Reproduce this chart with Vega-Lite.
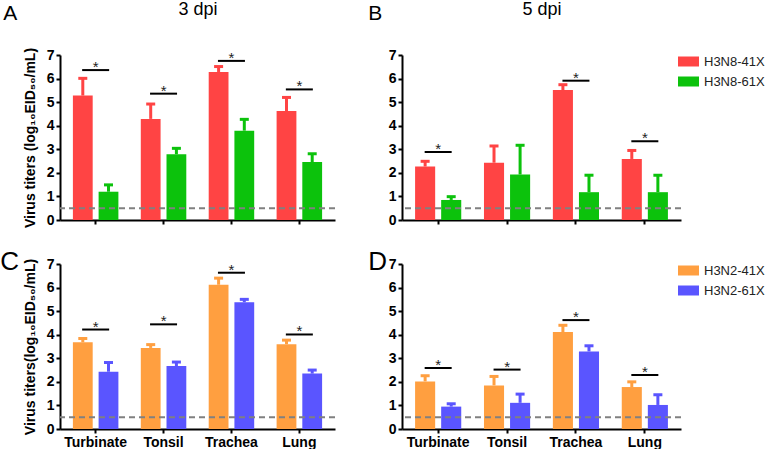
{
  "$schema": "https://vega.github.io/schema/vega-lite/v6.json",
  "padding": {"left": 0, "top": 0, "right": 0, "bottom": 0},
  "background": "white",
  "config": {
    "font": "Liberation Sans",
    "view": {"stroke": null},
    "axis": {"domainColor": "black", "domainWidth": 2, "tickColor": "black", "tickWidth": 2, "tickSize": 4, "labelFont": "Liberation Sans", "labelFontSize": 14, "labelFontWeight": "bold", "labelColor": "black", "labelOverlap": false, "grid": false, "titleFont": "Liberation Sans", "titleFontSize": 14, "titleFontWeight": "bold", "titleColor": "black"},
    "title": {"font": "Liberation Sans", "fontWeight": "normal", "color": "black"},
    "legend": {"title": null, "orient": "right", "labelFont": "Liberation Sans", "labelFontSize": 13, "labelColor": "#222", "symbolType": "M-2.1,-1H2.1V1H-2.1Z", "symbolSize": 100, "symbolStrokeWidth": 0, "symbolOpacity": 1, "labelOffset": 9, "offset": 1, "rowPadding": 6, "padding": 0}
  },
  "datasets": {
    "bars": [
      {"panel": "A", "tissue": "Turbinate", "strain": "H3N8-41X", "mean": 5.28, "upper": 6.01},
      {"panel": "A", "tissue": "Turbinate", "strain": "H3N8-61X", "mean": 1.2, "upper": 1.49},
      {"panel": "A", "tissue": "Tonsil", "strain": "H3N8-41X", "mean": 4.29, "upper": 4.92},
      {"panel": "A", "tissue": "Tonsil", "strain": "H3N8-61X", "mean": 2.79, "upper": 3.04},
      {"panel": "A", "tissue": "Trachea", "strain": "H3N8-41X", "mean": 6.28, "upper": 6.51},
      {"panel": "A", "tissue": "Trachea", "strain": "H3N8-61X", "mean": 3.79, "upper": 4.27},
      {"panel": "A", "tissue": "Lung", "strain": "H3N8-41X", "mean": 4.62, "upper": 5.2},
      {"panel": "A", "tissue": "Lung", "strain": "H3N8-61X", "mean": 2.46, "upper": 2.81},
      {"panel": "B", "tissue": "Turbinate", "strain": "H3N8-41X", "mean": 2.27, "upper": 2.49},
      {"panel": "B", "tissue": "Turbinate", "strain": "H3N8-61X", "mean": 0.85, "upper": 0.99},
      {"panel": "B", "tissue": "Tonsil", "strain": "H3N8-41X", "mean": 2.43, "upper": 3.14},
      {"panel": "B", "tissue": "Tonsil", "strain": "H3N8-61X", "mean": 1.93, "upper": 3.17},
      {"panel": "B", "tissue": "Trachea", "strain": "H3N8-41X", "mean": 5.51, "upper": 5.74},
      {"panel": "B", "tissue": "Trachea", "strain": "H3N8-61X", "mean": 1.18, "upper": 1.9},
      {"panel": "B", "tissue": "Lung", "strain": "H3N8-41X", "mean": 2.59, "upper": 2.95},
      {"panel": "B", "tissue": "Lung", "strain": "H3N8-61X", "mean": 1.18, "upper": 1.9},
      {"panel": "C", "tissue": "Turbinate", "strain": "H3N2-41X", "mean": 3.68, "upper": 3.84},
      {"panel": "C", "tissue": "Turbinate", "strain": "H3N2-61X", "mean": 2.43, "upper": 2.82},
      {"panel": "C", "tissue": "Tonsil", "strain": "H3N2-41X", "mean": 3.44, "upper": 3.58},
      {"panel": "C", "tissue": "Tonsil", "strain": "H3N2-61X", "mean": 2.67, "upper": 2.84},
      {"panel": "C", "tissue": "Trachea", "strain": "H3N2-41X", "mean": 6.12, "upper": 6.4},
      {"panel": "C", "tissue": "Trachea", "strain": "H3N2-61X", "mean": 5.38, "upper": 5.5},
      {"panel": "C", "tissue": "Lung", "strain": "H3N2-41X", "mean": 3.6, "upper": 3.77},
      {"panel": "C", "tissue": "Lung", "strain": "H3N2-61X", "mean": 2.35, "upper": 2.5},
      {"panel": "D", "tissue": "Turbinate", "strain": "H3N2-41X", "mean": 2.02, "upper": 2.26},
      {"panel": "D", "tissue": "Turbinate", "strain": "H3N2-61X", "mean": 0.95, "upper": 1.07},
      {"panel": "D", "tissue": "Tonsil", "strain": "H3N2-41X", "mean": 1.85, "upper": 2.23},
      {"panel": "D", "tissue": "Tonsil", "strain": "H3N2-61X", "mean": 1.11, "upper": 1.48},
      {"panel": "D", "tissue": "Trachea", "strain": "H3N2-41X", "mean": 4.11, "upper": 4.4},
      {"panel": "D", "tissue": "Trachea", "strain": "H3N2-61X", "mean": 3.29, "upper": 3.53},
      {"panel": "D", "tissue": "Lung", "strain": "H3N2-41X", "mean": 1.78, "upper": 2.0},
      {"panel": "D", "tissue": "Lung", "strain": "H3N2-61X", "mean": 1.02, "upper": 1.45}
    ],
    "sig": [
      {"panel": "A", "tissue": "Turbinate", "y": 6.36},
      {"panel": "A", "tissue": "Tonsil", "y": 5.36},
      {"panel": "A", "tissue": "Trachea", "y": 6.75},
      {"panel": "A", "tissue": "Lung", "y": 5.54},
      {"panel": "B", "tissue": "Turbinate", "y": 2.88},
      {"panel": "B", "tissue": "Trachea", "y": 5.91},
      {"panel": "B", "tissue": "Lung", "y": 3.34},
      {"panel": "C", "tissue": "Turbinate", "y": 4.22},
      {"panel": "C", "tissue": "Tonsil", "y": 4.44},
      {"panel": "C", "tissue": "Trachea", "y": 6.63},
      {"panel": "C", "tissue": "Lung", "y": 4.01},
      {"panel": "D", "tissue": "Turbinate", "y": 2.59},
      {"panel": "D", "tissue": "Tonsil", "y": 2.52},
      {"panel": "D", "tissue": "Trachea", "y": 4.62},
      {"panel": "D", "tissue": "Lung", "y": 2.29}
    ],
    "lod": [{"lod": 0.5}]
  },
  "columns": 2,
  "align": "each",
  "spacing": {"row": 21, "column": 32},
  "resolve": {"scale": {"color": "independent", "xOffset": "independent"}},
  "concat": [
    {
      "width": 275, "height": 165,
      "title": {"text": "A", "anchor": "start", "frame": "bounds", "fontSize": 21, "dy": 28, "dx": -20},
      "resolve": {"axis": {"x": "independent", "y": "independent"}},
      "layer": [
        {"data": {"name": "bars"}, "transform": [{"filter": "datum.panel === 'A'"}], "mark": {"type": "bar"},
         "encoding": {
           "x": {"field": "tissue", "type": "nominal", "sort": ["Turbinate", "Tonsil", "Trachea", "Lung"], "scale": {"type": "band", "paddingInner": 0.33, "paddingOuter": 0.19}, "axis": {"orient": "bottom", "title": null, "labels": false}},
           "xOffset": {"field": "strain", "type": "nominal", "scale": {"type": "band", "paddingInner": 0.23, "paddingOuter": 0}},
           "y": {"field": "mean", "type": "quantitative", "scale": {"domain": [0, 7], "nice": false}, "axis": {"values": [0, 1, 2, 3, 4, 5, 6, 7], "title": "Virus titers (log₁₀EID₅₀/mL)", "titlePadding": 9, "labelPadding": 2}},
           "color": {"field": "strain", "type": "nominal", "scale": {"domain": ["H3N8-41X", "H3N8-61X"], "range": ["#FF4444", "#0CC20C"]}, "legend": null}
         }},
        {"data": {"name": "bars"}, "transform": [{"filter": "datum.panel === 'A'"}], "mark": {"type": "rule", "strokeWidth": 3},
         "encoding": {
           "x": {"field": "tissue", "type": "nominal", "sort": ["Turbinate", "Tonsil", "Trachea", "Lung"], "axis": null},
           "xOffset": {"field": "strain", "type": "nominal"},
           "y": {"field": "mean", "type": "quantitative", "axis": null}, "y2": {"field": "upper"},
           "color": {"field": "strain", "type": "nominal", "legend": null}
         }},
        {"data": {"name": "bars"}, "transform": [{"filter": "datum.panel === 'A'"}], "mark": {"type": "tick", "size": 9, "thickness": 3, "opacity": 1},
         "encoding": {
           "x": {"field": "tissue", "type": "nominal", "sort": ["Turbinate", "Tonsil", "Trachea", "Lung"], "axis": null},
           "xOffset": {"field": "strain", "type": "nominal"},
           "y": {"field": "upper", "type": "quantitative", "axis": null},
           "color": {"field": "strain", "type": "nominal", "legend": null}
         }},
        {"data": {"name": "lod"}, "mark": {"type": "rule", "strokeDash": [6, 4], "color": "#808080", "strokeWidth": 2}, "encoding": {"y": {"field": "lod", "type": "quantitative", "axis": null}}},
        {"data": {"name": "sig"}, "transform": [{"filter": "datum.panel === 'A'"}], "mark": {"type": "tick", "size": 27, "thickness": 2, "color": "black", "opacity": 1},
         "encoding": {
           "x": {"field": "tissue", "type": "nominal", "sort": ["Turbinate", "Tonsil", "Trachea", "Lung"], "axis": {"orient": "top", "title": "3 dpi", "labels": false, "ticks": false, "domain": false, "titleFontSize": 18, "titleFontWeight": "normal", "titlePadding": 37}},
           "y": {"field": "y", "type": "quantitative", "axis": null}
         }},
        {"data": {"name": "sig"}, "transform": [{"filter": "datum.panel === 'A'"}], "mark": {"type": "text", "text": "*", "fontSize": 15, "baseline": "alphabetic", "dy": 2, "color": "#222"},
         "encoding": {
           "x": {"field": "tissue", "type": "nominal", "sort": ["Turbinate", "Tonsil", "Trachea", "Lung"], "axis": null},
           "y": {"field": "y", "type": "quantitative", "axis": null}
         }}
      ]
    },
    {
      "width": 279, "height": 165,
      "title": {"text": "B", "anchor": "start", "frame": "bounds", "fontSize": 21, "dy": 28, "dx": -20},
      "resolve": {"axis": {"x": "independent", "y": "independent"}},
      "layer": [
        {"data": {"name": "bars"}, "transform": [{"filter": "datum.panel === 'B'"}], "mark": {"type": "bar"},
         "encoding": {
           "x": {"field": "tissue", "type": "nominal", "sort": ["Turbinate", "Tonsil", "Trachea", "Lung"], "scale": {"type": "band", "paddingInner": 0.33, "paddingOuter": 0.19}, "axis": {"orient": "bottom", "title": null, "labels": false}},
           "xOffset": {"field": "strain", "type": "nominal", "scale": {"type": "band", "paddingInner": 0.23, "paddingOuter": 0}},
           "y": {"field": "mean", "type": "quantitative", "scale": {"domain": [0, 7], "nice": false}, "axis": {"values": [0, 1, 2, 3, 4, 5, 6, 7], "title": null, "labelPadding": 2}},
           "color": {"field": "strain", "type": "nominal", "scale": {"domain": ["H3N8-41X", "H3N8-61X"], "range": ["#FF4444", "#0CC20C"]}}
         }},
        {"data": {"name": "bars"}, "transform": [{"filter": "datum.panel === 'B'"}], "mark": {"type": "rule", "strokeWidth": 3},
         "encoding": {
           "x": {"field": "tissue", "type": "nominal", "sort": ["Turbinate", "Tonsil", "Trachea", "Lung"], "axis": null},
           "xOffset": {"field": "strain", "type": "nominal"},
           "y": {"field": "mean", "type": "quantitative", "axis": null}, "y2": {"field": "upper"},
           "color": {"field": "strain", "type": "nominal"}
         }},
        {"data": {"name": "bars"}, "transform": [{"filter": "datum.panel === 'B'"}], "mark": {"type": "tick", "size": 9, "thickness": 3, "opacity": 1},
         "encoding": {
           "x": {"field": "tissue", "type": "nominal", "sort": ["Turbinate", "Tonsil", "Trachea", "Lung"], "axis": null},
           "xOffset": {"field": "strain", "type": "nominal"},
           "y": {"field": "upper", "type": "quantitative", "axis": null},
           "color": {"field": "strain", "type": "nominal"}
         }},
        {"data": {"name": "lod"}, "mark": {"type": "rule", "strokeDash": [6, 4], "color": "#808080", "strokeWidth": 2}, "encoding": {"y": {"field": "lod", "type": "quantitative", "axis": null}}},
        {"data": {"name": "sig"}, "transform": [{"filter": "datum.panel === 'B'"}], "mark": {"type": "tick", "size": 27, "thickness": 2, "color": "black", "opacity": 1},
         "encoding": {
           "x": {"field": "tissue", "type": "nominal", "sort": ["Turbinate", "Tonsil", "Trachea", "Lung"], "axis": {"orient": "top", "title": "5 dpi", "labels": false, "ticks": false, "domain": false, "titleFontSize": 18, "titleFontWeight": "normal", "titlePadding": 37}},
           "y": {"field": "y", "type": "quantitative", "axis": null}
         }},
        {"data": {"name": "sig"}, "transform": [{"filter": "datum.panel === 'B'"}], "mark": {"type": "text", "text": "*", "fontSize": 15, "baseline": "alphabetic", "dy": 2, "color": "#222"},
         "encoding": {
           "x": {"field": "tissue", "type": "nominal", "sort": ["Turbinate", "Tonsil", "Trachea", "Lung"], "axis": null},
           "y": {"field": "y", "type": "quantitative", "axis": null}
         }}
      ]
    },
    {
      "width": 275, "height": 165,
      "title": {"text": "C", "anchor": "start", "frame": "bounds", "fontSize": 26, "dy": 22, "dx": -23},
      "resolve": {"axis": {"x": "independent", "y": "independent"}},
      "layer": [
        {"data": {"name": "bars"}, "transform": [{"filter": "datum.panel === 'C'"}], "mark": {"type": "bar"},
         "encoding": {
           "x": {"field": "tissue", "type": "nominal", "sort": ["Turbinate", "Tonsil", "Trachea", "Lung"], "scale": {"type": "band", "paddingInner": 0.33, "paddingOuter": 0.19}, "axis": {"orient": "bottom", "title": null, "labelAngle": 0, "labelPadding": 2}},
           "xOffset": {"field": "strain", "type": "nominal", "scale": {"type": "band", "paddingInner": 0.23, "paddingOuter": 0}},
           "y": {"field": "mean", "type": "quantitative", "scale": {"domain": [0, 7], "nice": false}, "axis": {"values": [0, 1, 2, 3, 4, 5, 6, 7], "title": "Virus titers(log₁₀EID₅₀/mL)", "titlePadding": 9, "labelPadding": 2}},
           "color": {"field": "strain", "type": "nominal", "scale": {"domain": ["H3N2-41X", "H3N2-61X"], "range": ["#FF9F40", "#5A55FF"]}, "legend": null}
         }},
        {"data": {"name": "bars"}, "transform": [{"filter": "datum.panel === 'C'"}], "mark": {"type": "rule", "strokeWidth": 3},
         "encoding": {
           "x": {"field": "tissue", "type": "nominal", "sort": ["Turbinate", "Tonsil", "Trachea", "Lung"], "axis": null},
           "xOffset": {"field": "strain", "type": "nominal"},
           "y": {"field": "mean", "type": "quantitative", "axis": null}, "y2": {"field": "upper"},
           "color": {"field": "strain", "type": "nominal", "legend": null}
         }},
        {"data": {"name": "bars"}, "transform": [{"filter": "datum.panel === 'C'"}], "mark": {"type": "tick", "size": 9, "thickness": 3, "opacity": 1},
         "encoding": {
           "x": {"field": "tissue", "type": "nominal", "sort": ["Turbinate", "Tonsil", "Trachea", "Lung"], "axis": null},
           "xOffset": {"field": "strain", "type": "nominal"},
           "y": {"field": "upper", "type": "quantitative", "axis": null},
           "color": {"field": "strain", "type": "nominal", "legend": null}
         }},
        {"data": {"name": "lod"}, "mark": {"type": "rule", "strokeDash": [6, 4], "color": "#808080", "strokeWidth": 2}, "encoding": {"y": {"field": "lod", "type": "quantitative", "axis": null}}},
        {"data": {"name": "sig"}, "transform": [{"filter": "datum.panel === 'C'"}], "mark": {"type": "tick", "size": 27, "thickness": 2, "color": "black", "opacity": 1},
         "encoding": {
           "x": {"field": "tissue", "type": "nominal", "sort": ["Turbinate", "Tonsil", "Trachea", "Lung"], "axis": null},
           "y": {"field": "y", "type": "quantitative", "axis": null}
         }},
        {"data": {"name": "sig"}, "transform": [{"filter": "datum.panel === 'C'"}], "mark": {"type": "text", "text": "*", "fontSize": 15, "baseline": "alphabetic", "dy": 2, "color": "#222"},
         "encoding": {
           "x": {"field": "tissue", "type": "nominal", "sort": ["Turbinate", "Tonsil", "Trachea", "Lung"], "axis": null},
           "y": {"field": "y", "type": "quantitative", "axis": null}
         }}
      ]
    },
    {
      "width": 279, "height": 165,
      "title": {"text": "D", "anchor": "start", "frame": "bounds", "fontSize": 26, "dy": 22, "dx": -20},
      "resolve": {"axis": {"x": "independent", "y": "independent"}},
      "layer": [
        {"data": {"name": "bars"}, "transform": [{"filter": "datum.panel === 'D'"}], "mark": {"type": "bar"},
         "encoding": {
           "x": {"field": "tissue", "type": "nominal", "sort": ["Turbinate", "Tonsil", "Trachea", "Lung"], "scale": {"type": "band", "paddingInner": 0.33, "paddingOuter": 0.19}, "axis": {"orient": "bottom", "title": null, "labelAngle": 0, "labelPadding": 2}},
           "xOffset": {"field": "strain", "type": "nominal", "scale": {"type": "band", "paddingInner": 0.23, "paddingOuter": 0}},
           "y": {"field": "mean", "type": "quantitative", "scale": {"domain": [0, 7], "nice": false}, "axis": {"values": [0, 1, 2, 3, 4, 5, 6, 7], "title": null, "labelPadding": 2}},
           "color": {"field": "strain", "type": "nominal", "scale": {"domain": ["H3N2-41X", "H3N2-61X"], "range": ["#FF9F40", "#5A55FF"]}}
         }},
        {"data": {"name": "bars"}, "transform": [{"filter": "datum.panel === 'D'"}], "mark": {"type": "rule", "strokeWidth": 3},
         "encoding": {
           "x": {"field": "tissue", "type": "nominal", "sort": ["Turbinate", "Tonsil", "Trachea", "Lung"], "axis": null},
           "xOffset": {"field": "strain", "type": "nominal"},
           "y": {"field": "mean", "type": "quantitative", "axis": null}, "y2": {"field": "upper"},
           "color": {"field": "strain", "type": "nominal"}
         }},
        {"data": {"name": "bars"}, "transform": [{"filter": "datum.panel === 'D'"}], "mark": {"type": "tick", "size": 9, "thickness": 3, "opacity": 1},
         "encoding": {
           "x": {"field": "tissue", "type": "nominal", "sort": ["Turbinate", "Tonsil", "Trachea", "Lung"], "axis": null},
           "xOffset": {"field": "strain", "type": "nominal"},
           "y": {"field": "upper", "type": "quantitative", "axis": null},
           "color": {"field": "strain", "type": "nominal"}
         }},
        {"data": {"name": "lod"}, "mark": {"type": "rule", "strokeDash": [6, 4], "color": "#808080", "strokeWidth": 2}, "encoding": {"y": {"field": "lod", "type": "quantitative", "axis": null}}},
        {"data": {"name": "sig"}, "transform": [{"filter": "datum.panel === 'D'"}], "mark": {"type": "tick", "size": 27, "thickness": 2, "color": "black", "opacity": 1},
         "encoding": {
           "x": {"field": "tissue", "type": "nominal", "sort": ["Turbinate", "Tonsil", "Trachea", "Lung"], "axis": null},
           "y": {"field": "y", "type": "quantitative", "axis": null}
         }},
        {"data": {"name": "sig"}, "transform": [{"filter": "datum.panel === 'D'"}], "mark": {"type": "text", "text": "*", "fontSize": 15, "baseline": "alphabetic", "dy": 2, "color": "#222"},
         "encoding": {
           "x": {"field": "tissue", "type": "nominal", "sort": ["Turbinate", "Tonsil", "Trachea", "Lung"], "axis": null},
           "y": {"field": "y", "type": "quantitative", "axis": null}
         }}
      ]
    }
  ]
}
